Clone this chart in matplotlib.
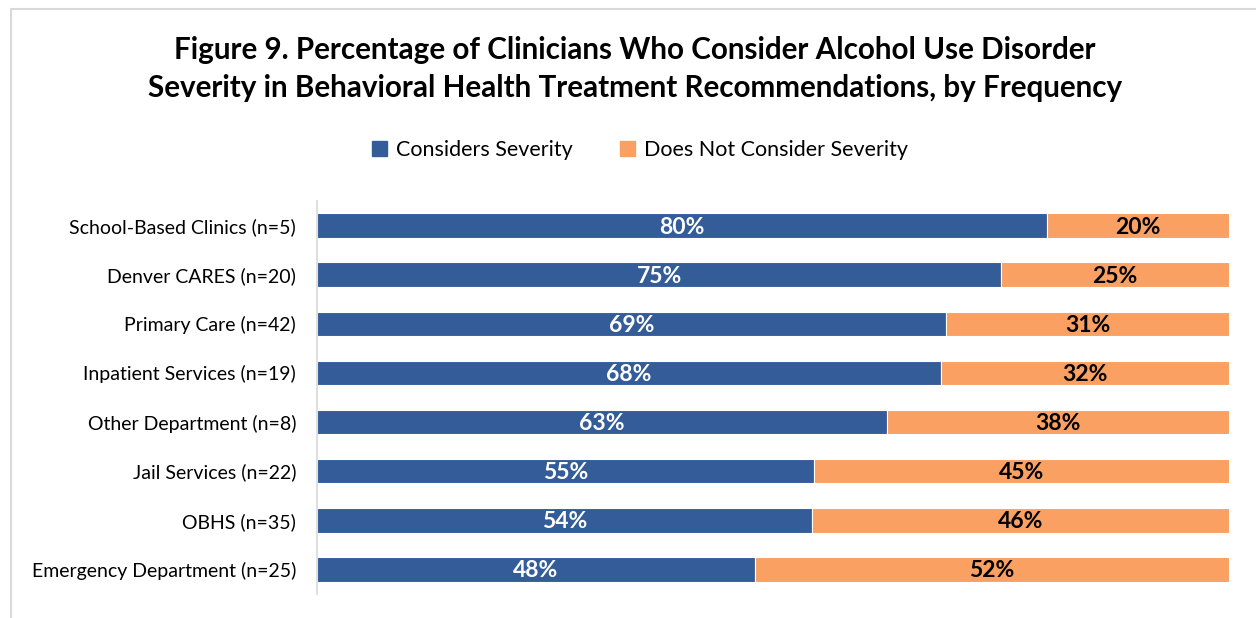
import matplotlib
matplotlib.use("Agg")
import matplotlib.pyplot as plt
from matplotlib.patches import Rectangle, Patch

categories = ["School-Based Clinics (n=5)", "Denver CARES (n=20)", "Primary Care (n=42)",
              "Inpatient Services (n=19)", "Other Department (n=8)", "Jail Services (n=22)",
              "OBHS (n=35)", "Emergency Department (n=25)"]
considers = [80, 75, 69, 68.4, 62.5, 54.5, 54.3, 48]
not_considers = [20, 25, 31, 31.6, 37.5, 45.5, 45.7, 52]
considers_labels = ["80%", "75%", "69%", "68%", "63%", "55%", "54%", "48%"]
not_labels = ["20%", "25%", "31%", "32%", "38%", "45%", "46%", "52%"]

blue = "#335C99"
orange = "#F9A062"
plt.rcParams['font.family'] = ['Lato', 'DejaVu Sans']

fig = plt.figure(figsize=(12.56, 6.18), dpi=100)
fig.patches.append(Rectangle((11/1256, -0.1), 1.2, 1 - 9/618 + 0.1, transform=fig.transFigure,
                             fill=False, edgecolor="#D9D9D9", linewidth=1.5))
ax = fig.add_axes([317/1256, 1 - 594/618, 912/1256, 393/618])

y = list(range(len(categories)))
ax.barh(y, considers, height=0.5, color=blue, edgecolor="white", linewidth=0.8)
ax.barh(y, not_considers, left=considers, height=0.5, color=orange, edgecolor="white", linewidth=0.8)
for i in y:
    ax.text(considers[i] / 2, i + 0.03, considers_labels[i], ha="center", va="center",
            color="white", fontsize=16.5, fontweight="bold")
    ax.text(considers[i] + not_considers[i] / 2, i + 0.03, not_labels[i], ha="center", va="center",
            color="black", fontsize=16.5, fontweight="bold")

ax.set_xlim(0, 100)
ax.set_ylim(len(categories) - 0.5, -0.5)
ax.set_yticks(y)
ax.set_yticklabels(categories, fontsize=14)
ax.tick_params(axis="y", length=0, pad=15)
ax.set_xticks([])
for s in ["top", "right", "bottom"]:
    ax.spines[s].set_visible(False)
ax.spines["left"].set_color("#D9D9D9")
ax.spines["left"].set_linewidth(1.2)

fig.text(635/1256, 1 - 50/618, "Figure 9. Percentage of Clinicians Who Consider Alcohol Use Disorder",
         ha="center", va="center", fontsize=21.3, fontweight="bold")
fig.text(635/1256, 1 - 88/618, "Severity in Behavioral Health Treatment Recommendations, by Frequency",
         ha="center", va="center", fontsize=21.3, fontweight="bold")

handles = [Patch(color=blue, label="Considers Severity"),
           Patch(color=orange, label="Does Not Consider Severity")]
fig.legend(handles=handles, loc="center", bbox_to_anchor=(640/1256, 1 - 150/618), ncol=2,
           frameon=False, fontsize=15.5, handlelength=0.7, handleheight=0.7,
           handletextpad=0.4, columnspacing=2.2)

fig.savefig("out.png", dpi=100)
